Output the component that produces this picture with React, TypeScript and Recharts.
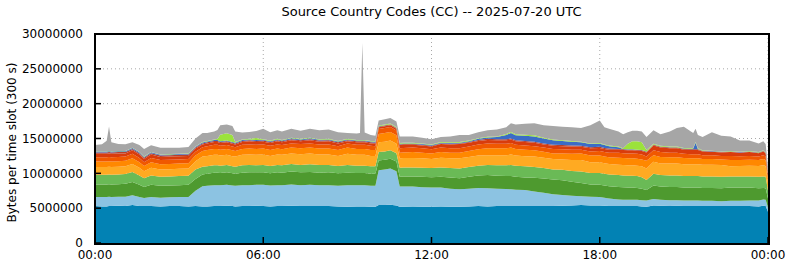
import React from 'react';
import { AreaChart, Area, XAxis, YAxis, CartesianGrid } from 'recharts';

const M = 1000000;

// time of each slot, minutes after 00:00 UTC
const times = [
  0, 15, 25, 30, 35, 50, 65, 80, 95, 105,
  120, 140, 160, 180, 200, 215, 230, 240, 255, 262,
  268, 282, 294, 300, 315, 330, 345, 360, 375, 390,
  400, 420, 440, 460, 480, 500, 520, 540, 560, 567,
  572, 577, 590, 600, 607, 620, 632, 645, 652, 660,
  680, 700, 720, 740, 760, 780, 800, 820, 840, 860,
  880, 890, 900, 920, 940, 960, 980, 1000, 1020, 1040,
  1060, 1080, 1090, 1100, 1120, 1130, 1140, 1150, 1160, 1170,
  1180, 1195, 1210, 1230, 1245, 1260, 1275, 1280, 1285, 1290,
  1300, 1320, 1340, 1360, 1380, 1400, 1420, 1430, 1435, 1440,
];

// values in millions of bytes per 300 s slot, one array per country code (bottom to top)
const cc1 = [
  5.3, 5.25, 5.25, 5.3, 5.3, 5.35, 5.3, 5.45, 5.3, 5.3,
  5.3, 5.25, 5.3, 5.3, 5.25, 5.3, 5.25, 5.25, 5.3, 5.3,
  5.3, 5.35, 5.3, 5.25, 5.3, 5.3, 5.35, 5.3, 5.25, 5.3,
  5.3, 5.35, 5.3, 5.3, 5.3, 5.3, 5.25, 5.2, 5.25, 5.25,
  5.25, 5.25, 5.2, 5.2, 5.45, 5.45, 5.5, 5.4, 5.2, 5.2,
  5.25, 5.2, 5.2, 5.25, 5.2, 5.2, 5.25, 5.3, 5.25, 5.3,
  5.3, 5.3, 5.3, 5.3, 5.3, 5.3, 5.3, 5.35, 5.4, 5.45,
  5.4, 5.4, 5.35, 5.3, 5.3, 5.3, 5.3, 5.3, 5.3, 5.25,
  5.2, 5.4, 5.35, 5.3, 5.35, 5.3, 5.3, 5.3, 5.3, 5.3,
  5.3, 5.3, 5.3, 5.3, 5.3, 5.3, 5.25, 5.35, 5.3, 4.5,
];
const cc2 = [
  1.3, 1.35, 1.35, 1.35, 1.3, 1.3, 1.35, 1.4, 1.3, 1.15,
  1.3, 1.25, 1.25, 1.3, 1.35, 2.2, 2.9, 2.95, 3.0, 3.0,
  3.0, 3.0, 2.95, 2.95, 3.0, 3.0, 3.0, 3.05, 3.0, 3.0,
  3.0, 3.05, 3.0, 3.05, 3.0, 3.0, 2.95, 3.1, 3.05, 3.05,
  3.05, 3.05, 3.0, 3.0, 5.0, 5.1, 5.2, 4.9, 2.9, 2.9,
  2.85, 2.8, 2.75, 2.7, 2.6, 2.5, 2.55, 2.6, 2.6, 2.5,
  2.45, 2.4, 2.35, 2.3, 2.1, 1.9, 1.7, 1.55, 1.4, 1.25,
  1.25, 1.2, 1.15, 1.1, 0.95, 0.9, 0.9, 0.9, 0.9, 0.9,
  0.9, 0.9, 0.85, 0.85, 0.8, 0.8, 0.8, 0.8, 0.8, 0.8,
  0.75, 0.75, 0.7, 0.75, 0.75, 0.8, 0.85, 0.9, 0.9, 0.6,
];
const cc3 = [
  1.8, 1.8, 1.8, 1.8, 1.8, 1.8, 1.85, 1.9, 1.75, 1.6,
  1.75, 1.7, 1.7, 1.7, 1.75, 1.7, 1.7, 1.75, 1.8, 1.8,
  1.75, 1.8, 1.75, 1.75, 1.8, 1.85, 1.8, 1.8, 1.75, 1.85,
  1.8, 1.85, 1.85, 1.85, 1.8, 1.85, 1.8, 1.8, 1.75, 1.75,
  1.75, 1.75, 1.75, 1.75, 1.4, 1.4, 1.4, 1.4, 1.4, 1.45,
  1.45, 1.5, 1.5, 1.55, 1.6, 1.6, 1.7, 1.8, 1.9, 1.85,
  1.85, 1.9, 1.85, 1.8, 1.95, 2.05, 2.1, 2.1, 2.0, 1.9,
  1.75, 1.75, 1.75, 1.75, 1.8, 1.8, 1.75, 1.75, 1.7, 1.65,
  1.5, 1.95, 1.9, 1.9, 1.9, 1.85, 1.85, 1.85, 1.85, 1.85,
  1.85, 1.85, 1.85, 1.9, 1.9, 1.85, 1.75, 1.65, 1.65, 1.3,
];
const cc4 = [
  1.4, 1.4, 1.4, 1.4, 1.4, 1.4, 1.4, 1.45, 1.35, 1.25,
  1.35, 1.3, 1.3, 1.3, 1.3, 1.35, 1.1, 1.05, 1.05, 1.05,
  1.05, 1.05, 1.0, 1.0, 1.05, 1.05, 1.0, 1.05, 1.05, 1.05,
  1.05, 1.1, 1.05, 1.1, 1.1, 1.05, 1.05, 1.1, 1.05, 1.05,
  1.05, 1.05, 1.05, 1.05, 1.2, 1.2, 1.2, 1.2, 1.3, 1.3,
  1.3, 1.3, 1.3, 1.35, 1.35, 1.4, 1.4, 1.4, 1.45, 1.5,
  1.55, 1.6, 1.6, 1.6, 1.55, 1.5, 1.45, 1.5, 1.55, 1.65,
  1.65, 1.7, 1.7, 1.7, 1.7, 1.7, 1.7, 1.7, 1.7, 1.65,
  1.45, 1.7, 1.65, 1.65, 1.65, 1.65, 1.65, 1.65, 1.65, 1.65,
  1.65, 1.65, 1.65, 1.6, 1.6, 1.6, 1.65, 1.65, 1.65, 1.1,
];
const cc5 = [
  1.1, 1.1, 1.1, 1.1, 1.1, 1.1, 1.1, 1.15, 1.1, 1.0,
  1.1, 1.05, 1.05, 1.05, 1.05, 1.2, 1.45, 1.5, 1.5, 1.5,
  1.45, 1.45, 1.45, 1.45, 1.5, 1.5, 1.5, 1.5, 1.45, 1.5,
  1.5, 1.5, 1.55, 1.55, 1.5, 1.5, 1.45, 1.6, 1.55, 1.55,
  1.55, 1.55, 1.5, 1.5, 1.4, 1.4, 1.4, 1.35, 1.35, 1.35,
  1.35, 1.35, 1.3, 1.4, 1.4, 1.45, 1.45, 1.45, 1.4, 1.45,
  1.45, 1.5, 1.45, 1.45, 1.5, 1.5, 1.5, 1.5, 1.55, 1.65,
  1.55, 1.55, 1.5, 1.5, 1.5, 1.5, 1.5, 1.5, 1.5, 1.55,
  1.65, 1.7, 1.65, 1.7, 1.7, 1.7, 1.7, 1.7, 1.7, 1.7,
  1.7, 1.7, 1.7, 1.45, 1.5, 1.55, 1.55, 1.6, 1.55, 1.1,
];
const cc6 = [
  0.8, 0.8, 0.8, 0.8, 0.8, 0.8, 0.8, 0.8, 0.8, 0.75,
  0.8, 0.75, 0.75, 0.75, 0.75, 0.8, 0.8, 0.85, 0.85, 0.85,
  0.85, 0.85, 0.85, 0.8, 0.85, 0.85, 0.85, 0.85, 0.85, 0.85,
  0.8, 0.85, 0.85, 0.85, 0.85, 0.85, 0.85, 0.9, 0.85, 0.85,
  0.85, 0.85, 0.85, 0.85, 1.2, 1.25, 1.25, 1.2, 0.8, 0.8,
  0.85, 0.8, 0.8, 0.8, 0.8, 0.8, 0.85, 0.9, 1.0, 1.0,
  1.0, 1.0, 0.95, 0.95, 0.9, 0.85, 0.8, 0.85, 0.9, 0.95,
  0.95, 0.95, 0.95, 0.95, 1.0, 1.0, 1.0, 1.0, 1.0, 1.0,
  1.1, 0.95, 0.95, 0.9, 0.9, 0.9, 0.85, 0.85, 0.85, 0.85,
  0.8, 0.8, 0.8, 0.9, 0.85, 0.85, 0.85, 0.9, 0.85, 0.55,
];
const cc7 = [
  0.6, 0.6, 0.6, 0.6, 0.6, 0.6, 0.6, 0.65, 0.6, 0.55,
  0.6, 0.6, 0.6, 0.6, 0.6, 0.55, 0.55, 0.55, 0.6, 0.6,
  0.55, 0.55, 0.55, 0.55, 0.6, 0.6, 0.6, 0.6, 0.6, 0.6,
  0.6, 0.6, 0.6, 0.6, 0.6, 0.6, 0.55, 0.6, 0.6, 0.6,
  0.6, 0.6, 0.6, 0.55, 0.7, 0.7, 0.7, 0.7, 0.65, 0.65,
  0.65, 0.65, 0.6, 0.65, 0.65, 0.65, 0.65, 0.7, 0.7, 0.65,
  0.65, 0.65, 0.6, 0.6, 0.6, 0.6, 0.65, 0.6, 0.6, 0.55,
  0.6, 0.65, 0.65, 0.65, 0.7, 0.7, 0.7, 0.7, 0.7, 0.7,
  0.6, 0.7, 0.7, 0.65, 0.65, 0.6, 0.6, 0.6, 0.6, 0.6,
  0.55, 0.55, 0.5, 0.6, 0.55, 0.55, 0.5, 0.55, 0.5, 0.35,
];
const cc8 = [
  0.5, 0.5, 0.5, 0.5, 0.5, 0.5, 0.45, 0.5, 0.5, 0.45,
  0.5, 0.45, 0.45, 0.45, 0.45, 0.45, 0.4, 0.4, 0.4, 0.4,
  0.4, 0.4, 0.4, 0.4, 0.4, 0.45, 0.4, 0.4, 0.4, 0.45,
  0.4, 0.45, 0.4, 0.45, 0.4, 0.45, 0.4, 0.3, 0.35, 0.35,
  0.35, 0.35, 0.35, 0.35, 0.25, 0.25, 0.25, 0.25, 0.45, 0.45,
  0.4, 0.4, 0.4, 0.5, 0.55, 0.6, 0.55, 0.5, 0.5, 0.5,
  0.5, 0.5, 0.5, 0.5, 0.5, 0.45, 0.45, 0.45, 0.45, 0.4,
  0.45, 0.45, 0.45, 0.45, 0.45, 0.45, 0.45, 0.45, 0.45, 0.5,
  0.6, 0.7, 0.65, 0.65, 0.65, 0.6, 0.6, 0.6, 0.6, 0.6,
  0.55, 0.5, 0.5, 0.55, 0.5, 0.55, 0.5, 0.55, 0.5, 0.35,
];
const cc9 = [
  0.2, 0.2, 0.2, 0.2, 0.2, 0.2, 0.2, 0.2, 0.2, 0.2,
  0.2, 0.2, 0.2, 0.2, 0.2, 0.15, 0.15, 0.15, 0.15, 0.15,
  0.15, 0.15, 0.15, 0.15, 0.15, 0.15, 0.15, 0.15, 0.15, 0.15,
  0.15, 0.15, 0.15, 0.15, 0.15, 0.15, 0.15, 0.15, 0.15, 0.15,
  0.15, 0.15, 0.15, 0.15, 0.1, 0.1, 0.1, 0.1, 0.1, 0.1,
  0.1, 0.1, 0.1, 0.1, 0.1, 0.1, 0.1, 0.15, 0.15, 0.15,
  0.15, 0.15, 0.15, 0.15, 0.15, 0.15, 0.15, 0.15, 0.15, 0.15,
  0.15, 0.15, 0.15, 0.15, 0.1, 0.1, 0.1, 0.1, 0.1, 0.1,
  0.1, 0.1, 0.1, 0.1, 0.1, 0.1, 0.1, 0.1, 0.1, 0.1,
  0.05, 0.05, 0.05, 0.05, 0.05, 0.05, 0.05, 0.05, 0.05, 0.05,
];
const cc10 = [
  0.12, 0.12, 0.12, 0.12, 0.12, 0.12, 0.12, 0.12, 0.12, 0.1,
  0.12, 0.12, 0.12, 0.12, 0.12, 0.1, 0.12, 0.12, 0.12, 0.12,
  0.1, 0.1, 0.1, 0.1, 0.12, 0.12, 0.12, 0.12, 0.12, 0.12,
  0.12, 0.12, 0.12, 0.12, 0.12, 0.12, 0.12, 0.12, 0.12, 0.12,
  0.12, 0.12, 0.12, 0.12, 0.05, 0.05, 0.05, 0.05, 0.1, 0.1,
  0.1, 0.1, 0.1, 0.1, 0.1, 0.1, 0.1, 0.15, 0.2, 0.3,
  0.6, 0.8, 0.7, 0.75, 0.75, 0.7, 0.65, 0.6, 0.55, 0.5,
  0.45, 0.45, 0.4, 0.35, 0.25, 0.05, 0.05, 0.05, 0.05, 0.05,
  0.05, 0.05, 0.05, 0.05, 0.05, 0.05, 0.05, 0.1, 0.95, 0.05,
  0.05, 0.05, 0.05, 0.05, 0.05, 0.05, 0.05, 0.05, 0.05, 0.05,
];
const cc11 = [
  0.05, 0.05, 0.05, 0.05, 0.05, 0.05, 0.05, 0.05, 0.05, 0.05,
  0.05, 0.05, 0.05, 0.05, 0.05, 0.05, 0.08, 0.08, 0.08, 0.15,
  0.95, 1.05, 1.0, 0.1, 0.08, 0.08, 0.3, 0.08, 0.08, 0.08,
  0.08, 0.08, 0.08, 0.08, 0.08, 0.08, 0.08, 0.08, 0.08, 0.08,
  0.08, 0.08, 0.08, 0.08, 0.1, 0.1, 0.1, 0.1, 0.1, 0.1,
  0.1, 0.1, 0.1, 0.1, 0.1, 0.1, 0.1, 0.1, 0.1, 0.1,
  0.15, 0.15, 0.15, 0.15, 0.15, 0.1, 0.1, 0.1, 0.1, 0.1,
  0.1, 0.1, 0.1, 0.1, 0.1, 0.1, 0.8, 1.15, 1.2, 1.1,
  0.2, 0.1, 0.1, 0.1, 0.1, 0.1, 0.1, 0.1, 0.1, 0.1,
  0.05, 0.05, 0.05, 0.05, 0.05, 0.05, 0.05, 0.05, 0.05, 0.05,
];
const cc12 = [
  0.9, 1.0, 1.5, 3.5, 1.3, 1.0, 0.95, 0.8, 1.0, 1.1,
  0.95, 0.95, 0.9, 0.85, 0.9, 1.15, 1.3, 1.15, 1.15, 1.3,
  1.35, 1.25, 1.3, 1.5, 1.0, 1.0, 1.0, 1.5, 1.2, 1.25,
  1.2, 1.3, 1.15, 1.3, 1.3, 1.35, 1.25, 0.85, 0.9, 1.0,
  13.9, 1.05, 0.85, 0.8, 0.75, 0.75, 0.8, 0.8, 0.95, 0.9,
  0.9, 0.8, 0.75, 0.7, 0.85, 1.0, 0.8, 0.85, 0.95, 1.0,
  0.95, 1.25, 1.4, 1.55, 1.75, 1.8, 1.95, 1.95, 1.95, 1.95,
  2.6, 3.25, 2.45, 2.4, 2.15, 2.0, 1.65, 1.5, 1.5, 1.55,
  1.85, 1.95, 1.65, 2.15, 2.65, 3.05, 2.4, 2.15, 1.9, 1.9,
  1.9, 2.65, 2.25, 2.1, 1.6, 1.5, 1.25, 1.3, 1.15, 0.9,
];

const series = [
  { key: 'cc1', color: '#0282b4', values: cc1 },
  { key: 'cc2', color: '#8cc3e2', values: cc2 },
  { key: 'cc3', color: '#4e9a2f', values: cc3 },
  { key: 'cc4', color: '#6aba56', values: cc4 },
  { key: 'cc5', color: '#ffaa22', values: cc5 },
  { key: 'cc6', color: '#ff8800', values: cc6 },
  { key: 'cc7', color: '#f05800', values: cc7 },
  { key: 'cc8', color: '#d93c0c', values: cc8 },
  { key: 'cc9', color: '#b8402c', values: cc9 },
  { key: 'cc10', color: '#3b6cc6', values: cc10 },
  { key: 'cc11', color: '#9be23c', values: cc11 },
  { key: 'cc12', color: '#a6a6a6', values: cc12 },
];

const xTicks = [0, 360, 720, 1080, 1440];
const yTicks = [0, 5000000, 10000000, 15000000, 20000000, 25000000, 30000000];

const data = times.map((t, i) => {
  const row: Record<string, number> = { t };
  series.forEach((s) => {
    row[s.key] = Math.round(s.values[i] * M);
  });
  return row;
});

const fmtTime = (v: number) => {
  const h = Math.floor(v / 60) % 24;
  return `${String(h).padStart(2, '0')}:00`;
};

const FONT = 'DejaVu Sans';
const Empty = () => <g />;
const TICK_LINE = { stroke: '#000', strokeWidth: 1.5 };

const YLabel = (props: any) => {
  const vb = props.viewBox || { x: 0, y: 34, width: 95, height: 209 };
  const x = vb.x + 12;
  const y = vb.y + vb.height / 2 + 4;
  return (
    <text
      x={x}
      y={y}
      transform={`rotate(-90 ${x} ${y})`}
      textAnchor="middle"
      dominantBaseline="central"
      fontFamily={FONT}
      fontSize={12}
      fill="#000"
    >
      Bytes per time slot (300 s)
    </text>
  );
};

export default function App() {
  return (
    <div style={{ position: 'absolute', left: 0, top: 0, width: 790, height: 267, background: '#fff' }}>
      <div
        style={{
          position: 'absolute',
          left: 95,
          top: 4,
          width: 673,
          textAlign: 'center',
          fontFamily: FONT,
          fontSize: 13,
          lineHeight: '16px',
          color: '#000',
        }}
      >
        Source Country Codes (CC) -- 2025-07-20 UTC
      </div>
      <div style={{ position: 'absolute', left: 0, top: 0, width: 790, height: 267 }}>
        <AreaChart width={790} height={267} data={data} margin={{ top: 34, right: 22, bottom: 0, left: 0 }}>
          <CartesianGrid stroke="#a8a8a8" strokeDasharray="1 3" />
          {series.map((s) => (
            <Area
              key={s.key}
              type="linear"
              dataKey={s.key}
              stackId="cc"
              stroke="none"
              fill={s.color}
              fillOpacity={1}
              isAnimationActive={false}
              dot={false}
              activeDot={false}
            />
          ))}
          <XAxis
            dataKey="t"
            type="number"
            domain={[0, 1440]}
            ticks={xTicks}
            interval={0}
            tickFormatter={fmtTime}
            height={24}
            tickSize={-6}
            tickMargin={13}
            tickLine={TICK_LINE}
            axisLine={false}
            tick={{ fill: '#000', fontSize: 12, fontFamily: FONT }}
          />
          <XAxis
            xAxisId="top"
            orientation="top"
            dataKey="t"
            type="number"
            domain={[0, 1440]}
            allowDataOverflow
            ticks={xTicks}
            interval={0}
            height={0}
            tickSize={-6}
            tickMargin={0}
            axisLine={false}
            tickLine={TICK_LINE}
            tick={Empty}
          />
          <YAxis
            type="number"
            domain={[0, 30000000]}
            ticks={yTicks}
            interval={0}
            width={95}
            tickSize={-6}
            tickMargin={18}
            tickLine={TICK_LINE}
            axisLine={false}
            tick={{ fill: '#000', fontSize: 12, fontFamily: FONT }}
            label={<YLabel />}
          />
          <YAxis
            yAxisId="right"
            orientation="right"
            type="number"
            domain={[0, 30000000]}
            allowDataOverflow
            ticks={yTicks}
            interval={0}
            width={0}
            tickSize={-6}
            tickMargin={0}
            axisLine={false}
            tickLine={TICK_LINE}
            tick={Empty}
          />
        </AreaChart>
      </div>
      <div
        style={{
          position: 'absolute',
          left: 94,
          top: 33,
          width: 676,
          height: 212,
          boxSizing: 'border-box',
          border: '2px solid #000',
          pointerEvents: 'none',
          zIndex: 5,
        }}
      />
    </div>
  );
}
